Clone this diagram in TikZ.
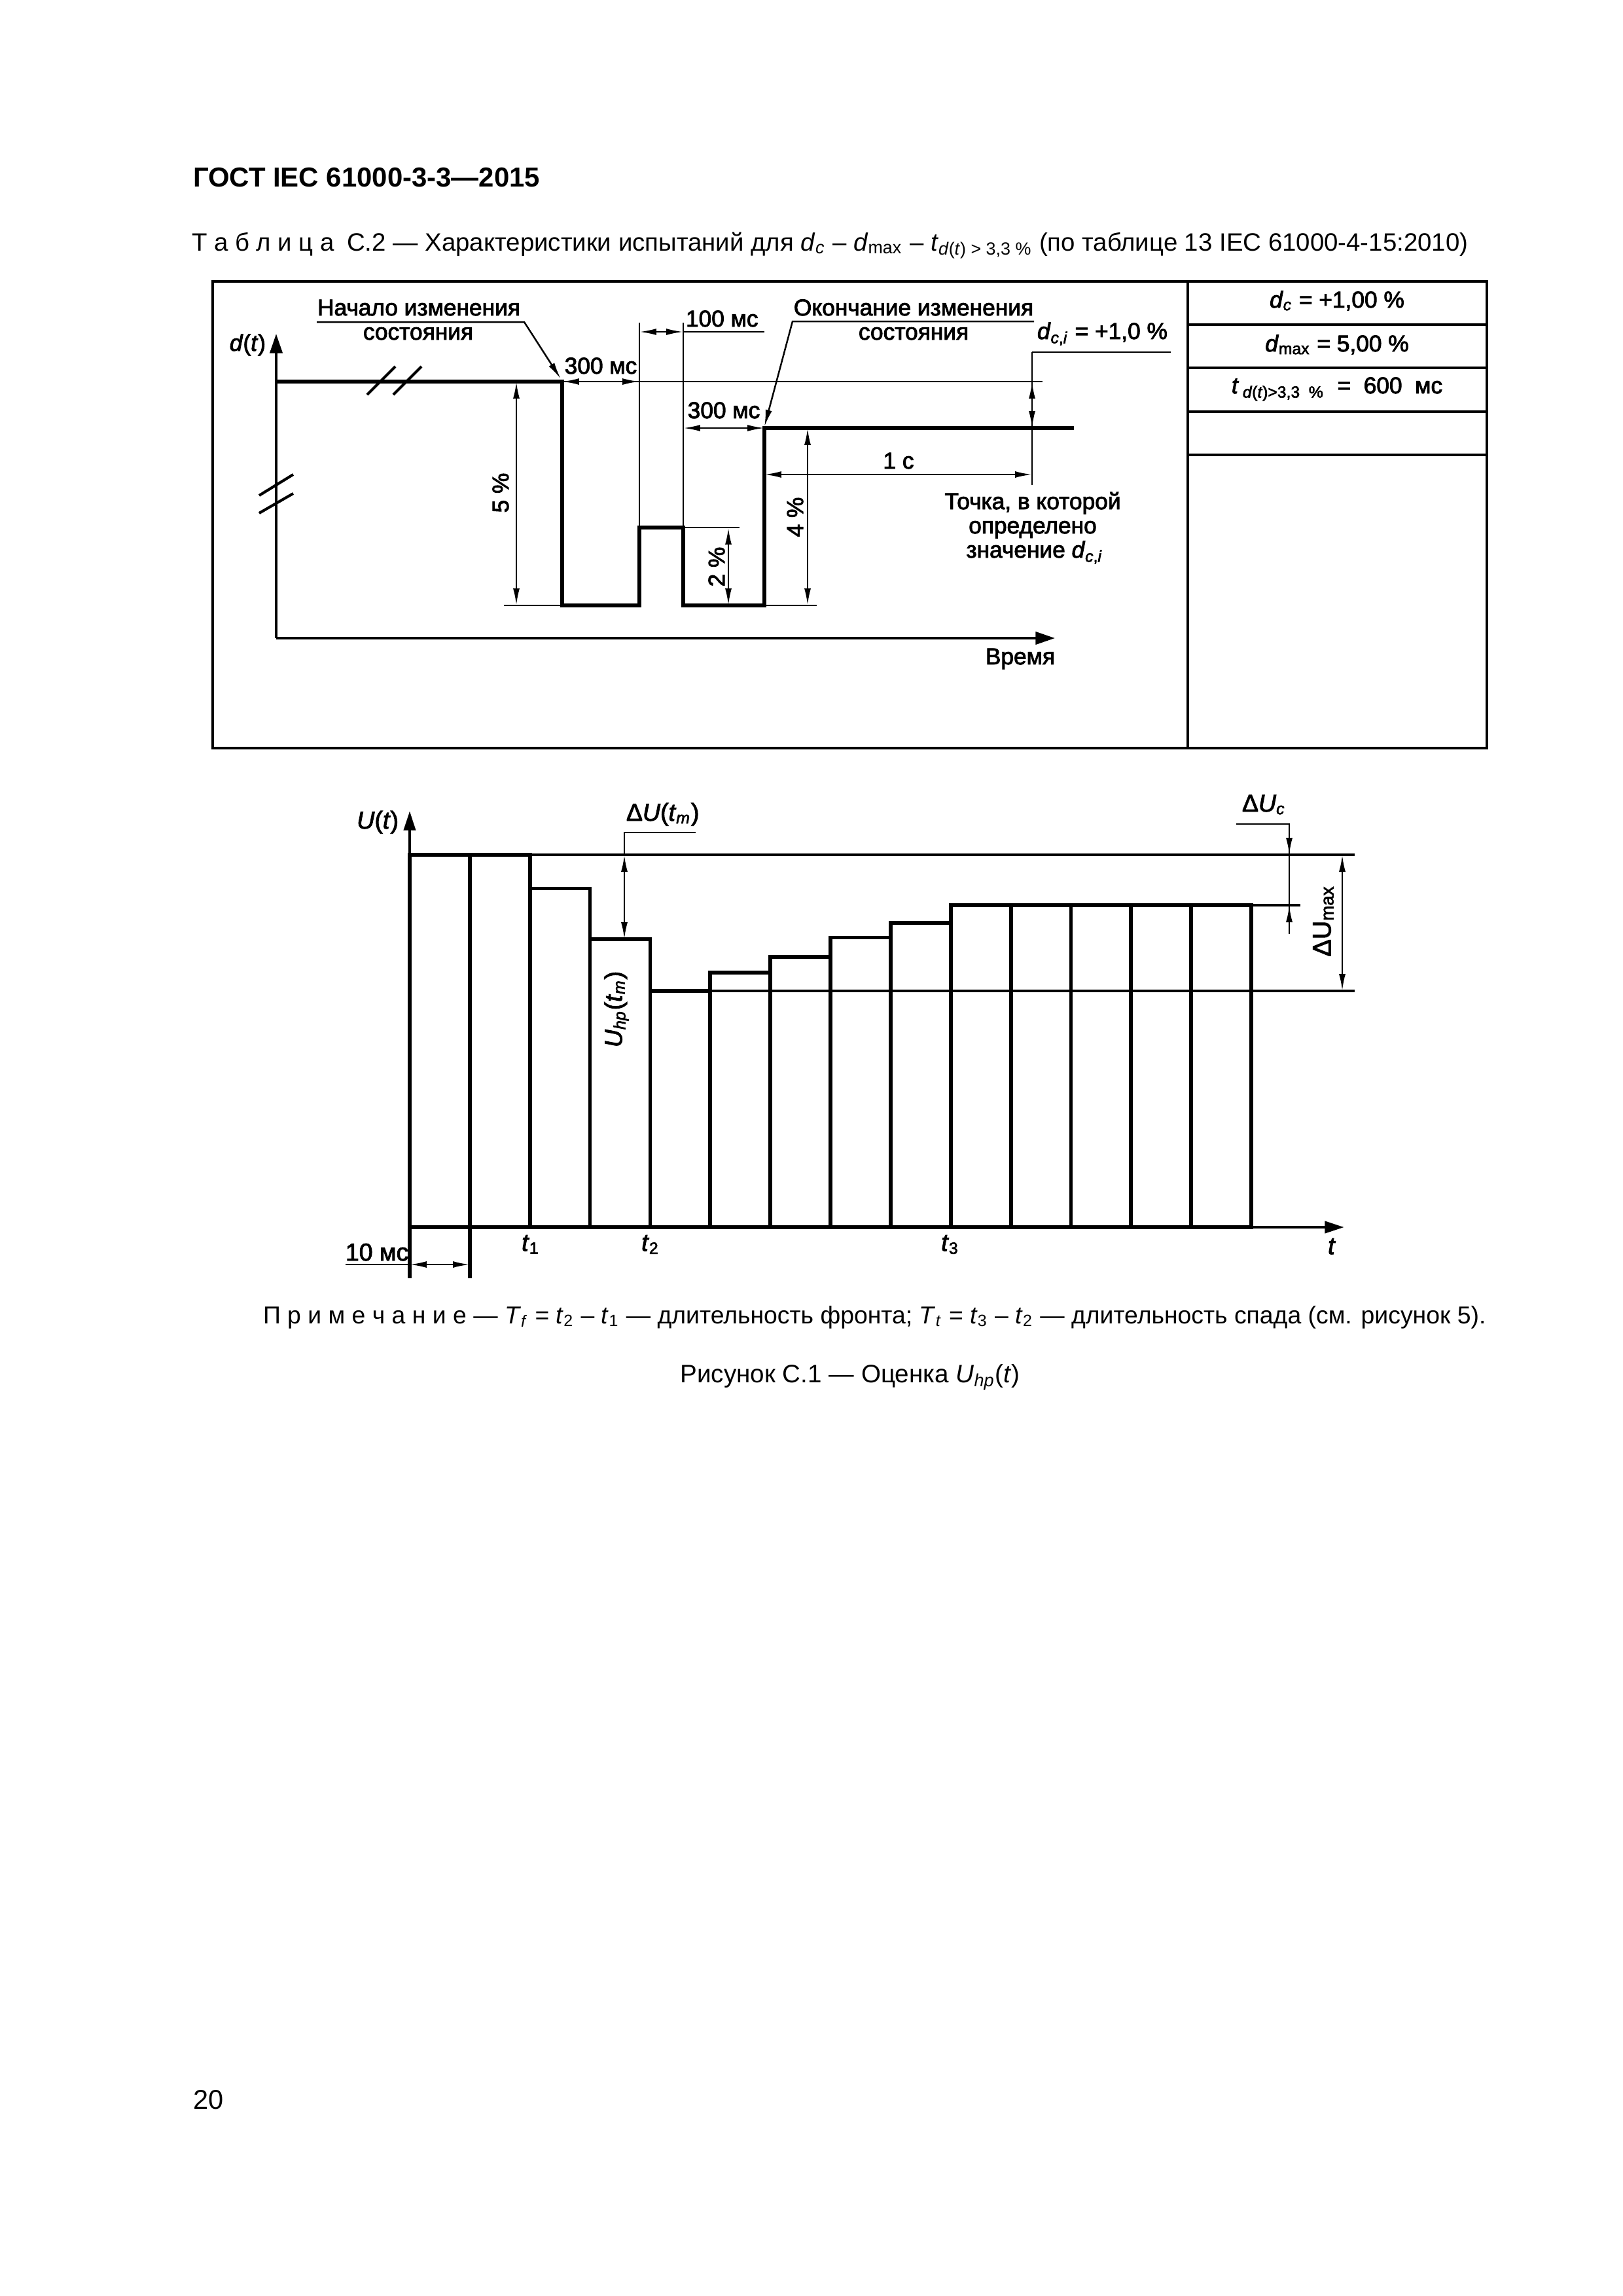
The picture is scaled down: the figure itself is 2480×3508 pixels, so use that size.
\documentclass[tikz,border=0pt]{standalone}
\usepackage{fontspec}
\setmainfont{Liberation Sans}
\newfontfamily\dfont[FakeBold=2.5]{Liberation Sans}
\usetikzlibrary{arrows.meta}
\newcommand\iv[1]{\textit{#1}}
\newcommand\sbs[1]{\textsubscript{#1}}
\newcommand\fsz[1]{\fontsize{#1}{#1}\selectfont}
\begin{document}
\begin{tikzpicture}[x=0.0846774mm,y=-0.0846774mm,
  lbl/.style={inner sep=0pt,outer sep=0pt,font=\dfont\fsz{8.5}},
  lbltwo/.style={inner sep=0pt,outer sep=0pt,font=\dfont\fsz{9}},
  txt/.style={inner sep=0pt,outer sep=0pt},
  tbl/.style={line width=0.8pt},
  axisone/.style={line width=1pt,-{Triangle[length=2.5mm,width=1.6mm]}},
  axistwo/.style={line width=1.1pt,-{Triangle[length=2.5mm,width=1.5mm]}},
  sig/.style={line width=1.6pt,line join=miter},
  dimline/.style={line width=0.6pt},
  dimarr/.style={dimline,{Latex[length=2.2mm,width=0.85mm]}-{Latex[length=2.2mm,width=0.85mm]}},
  toarr/.style={dimline,-{Latex[length=2.2mm,width=0.85mm]}},
  bar/.style={line width=1.4pt,line join=miter},
  refline/.style={line width=1.1pt},
  brk/.style={line width=1pt}
]
\fill[white] (0,0) rectangle (2480,3508);
\useasboundingbox (0,0) rectangle (2480,3508);

% ---------- header and caption ----------
\node[txt,anchor=base west,font=\bfseries\fsz{10.1}] (hdr) at (295,285) {ГОСТ IEC 61000-3-3—2015};
\node[txt,anchor=base west,font=\fsz{9.25}] (cap) at (293,383)
  {Т а б л и ц а\enspace С.2 — Характеристики испытаний для \iv{d}\sbs{\iv{c}} – \iv{d}\sbs{max} – \iv{t}\sbs{\iv{d}(\iv{t}) > 3,3 \%} (по таблице 13 IEC 61000-4-15:2010)};

% ---------- table ----------
\draw[tbl] (325,430) rectangle (2272,1143);
\draw[tbl] (1815,430) -- (1815,1143);
\foreach \yy in {496,562,629,695} \draw[tbl] (1815,\yy) -- (2272,\yy);
\node[lbl,anchor=base] (rc1) at (2043,470) {\iv{d}\sbs{\iv{c}} = +1,00 \%};
\node[lbl,anchor=base] (rc2) at (2043,537) {\iv{d}\sbs{max} = 5,00 \%};
\node[lbl,anchor=base] (rc3) at (2043,601) {\iv{t}\,\sbs{\iv{d}(\iv{t})>3,3\ \ \%}\ \ = \ 600\ \ мс};

% ---------- diagram 1 ----------
\coordinate (O1) at (422,975);
\draw[axisone] (O1) -- (422,510) coordinate (Y1);
\draw[axisone] (O1) -- (1612,975) coordinate (X1);
\draw[brk] (396,757) -- (448,725);
\draw[brk] (396,784) -- (448,754);
\node[lbl,anchor=base east] (dt) at (406,536) {\iv{d}(\iv{t})};
\node[lbl,anchor=base east] (vremya) at (1612,1015) {Время};

\draw[sig] (422,583) -- (859,583) -- (859,925) -- (977,925) -- (977,806) -- (1044,806)
  -- (1044,925) -- (1168,925) -- (1168,654) -- (1641,654);
\draw[brk] (561,603) -- (604,560);
\draw[brk] (601,603) -- (644,560);

\draw[dimline] (859,583) -- (1593,583);
\draw[dimline] (977,493) -- (977,806);
\draw[dimline] (1044,493) -- (1044,806);
\draw[dimarr] (977,507) -- (1044,507);
\draw[dimline] (1044,507) -- (1168,507);
\node[lbl,anchor=base west] (t100) at (1048,499) {100 мс};
\draw[dimarr] (859,583) -- (977,583);
\node[lbl,anchor=base] (t300a) at (918,571) {300 мс};
\draw[dimarr] (1044,654) -- (1168,654);
\node[lbl,anchor=base] (t300b) at (1106,639) {300 мс};

\draw[dimline] (770,925) -- (859,925);
\draw[dimarr] (789,583) -- (789,925);
\node[lbl,rotate=90] (p5) at (765,753) {5 \%};
\draw[dimline] (1044,806) -- (1130,806);
\draw[dimarr] (1113,806) -- (1113,925);
\node[lbl,rotate=90] (p2) at (1095,866) {2 \%};
\draw[dimline] (1168,925) -- (1248,925);
\draw[dimarr] (1234,654) -- (1234,925);
\node[lbl,rotate=90] (p4) at (1215,790) {4 \%};

\draw[dimline] (1577,538) -- (1577,741);
\draw[dimline] (1577,538) -- (1789,538);
\draw[dimarr] (1577,583) -- (1577,654);
\draw[dimarr] (1168,725) -- (1577,725);
\node[lbl,anchor=base] (t1s) at (1373,716) {1 с};
\node[lbl,anchor=base west] (dci) at (1585,518) {\iv{d}\sbs{\iv{c},\iv{i}} = +1,0 \%};

\node[lbl,anchor=base] (nach1) at (640,482) {Начало изменения};
\node[lbl,anchor=base] (nach2) at (639,519) {состояния};
\draw[toarr] (484,492) -- (801,492) -- (857,579);
\node[lbl,anchor=base] (ok1) at (1396,482) {Окончание изменения};
\node[lbl,anchor=base] (ok2) at (1396,519) {состояния};
\draw[toarr] (1580,491) -- (1211,491) -- (1168,652);

\node[lbl,anchor=base] (pt1) at (1578,778) {Точка, в которой};
\node[lbl,anchor=base] (pt2) at (1578,815) {определено};
\node[lbl,anchor=base] (pt3) at (1581,852) {значение \iv{d}\sbs{\iv{c},\iv{i}}};

% ---------- diagram 2 ----------
\draw[refline] (626,1306) -- (2070,1306);
\draw[refline] (994,1514) -- (2070,1514);
\draw[refline] (1912,1383) -- (1987,1383);
\foreach \i/\tp in {0/1306,1/1306,2/1357.5,3/1435,4/1514,5/1486,6/1462,7/1432.5,8/1409.6,9/1383,10/1383,11/1383,12/1383,13/1383}
  \draw[bar] ({626+91.86*\i},1875) rectangle ({626+91.86*(\i+1)},\tp);
\draw[axistwo] (626,1875) -- (626,1239);
\draw[axistwo] (626,1875) -- (2054,1875);
\draw[bar] (626,1875) -- (626,1953);
\draw[bar] (718,1875) -- (718,1953);
\node[lbltwo,anchor=base east] (ut) at (609,1266) {\iv{U}(\iv{t})};

\node[lbltwo,anchor=base west] (dutm) at (957,1254) {Δ\iv{U}(\iv{t}\sbs{\iv{m}})};
\draw[dimline] (1063,1272) -- (954,1272) -- (954,1306);
\draw[dimarr] (954,1306) -- (954,1435);
\node[lbltwo,rotate=90] (uhp) at (942,1542) {\iv{U}\sbs{\iv{hp}}(\iv{t}\sbs{\iv{m}})};

\node[lbltwo,anchor=base west] (duc) at (1898,1240) {Δ\iv{U}\sbs{\iv{c}}};
\draw[dimline] (1889,1259) -- (1970,1259) -- (1970,1427);
\draw[toarr] (1970,1259) -- (1970,1306);
\draw[toarr] (1970,1427) -- (1970,1383);
\draw[dimarr] (2051,1306) -- (2051,1514);
\node[lbltwo,rotate=90,font=\dfont\fsz{9.5}] (dumax) at (2022,1407) {ΔU\sbs{max}};

\draw[dimline] (528,1932) -- (626,1932);
\draw[dimarr] (626,1932) -- (718,1932);
\node[lbltwo,anchor=base west] (t10) at (528,1926) {10 мс};
\node[lbltwo,anchor=north] (tt1) at (811,1887) {\iv{t}\sbs{1}};
\node[lbltwo,anchor=north] (tt2) at (994,1887) {\iv{t}\sbs{2}};
\node[lbltwo,anchor=north] (tt3) at (1452,1887) {\iv{t}\sbs{3}};
\node[lbltwo,anchor=north] (tt) at (2035,1892) {\iv{t}};

% ---------- notes ----------
\node[txt,anchor=base west,font=\fsz{9}] (note) at (402,2022)
  {П р и м е ч а н и е — \iv{T}\sbs{\iv{f}} = \iv{t}\sbs{2} – \iv{t}\sbs{1} — длительность фронта; \iv{T}\sbs{\iv{t}} = \iv{t}\sbs{3} – \iv{t}\sbs{2} — длительность спада (см. рисунок 5).};
\node[txt,anchor=base,font=\fsz{9.3}] (fig) at (1299,2112) {Рисунок С.1 — Оценка \iv{U}\sbs{\iv{hp}}(\iv{t})};
\node[txt,anchor=base west,font=\fsz{10}] (pg) at (295,3222) {20};
\end{tikzpicture}
\end{document}
